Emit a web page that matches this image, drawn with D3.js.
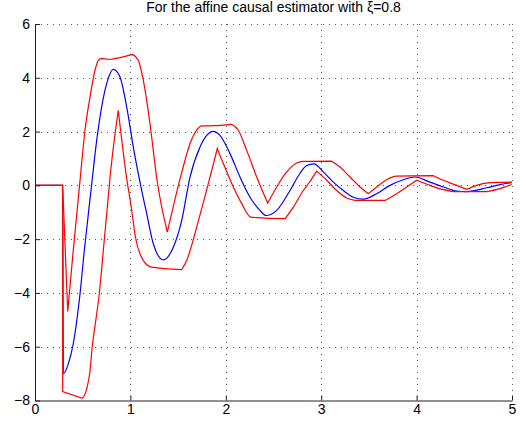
<!DOCTYPE html>
<html>
<head>
<meta charset="utf-8">
<script src="https://cdn.jsdelivr.net/npm/d3@7"></script>
<style>
  html, body { margin: 0; padding: 0; background: #fff; }
  svg { display: block; }
  text { font-family: "Liberation Sans", Arial, Helvetica, sans-serif; }
</style>
</head>
<body>
<svg id="chart" width="526" height="429"></svg>
<script>
const titleText = "For the affine causal estimator with ξ=0.8";
const xTicks = [0, 1, 2, 3, 4, 5];
const yTicks = [-8, -6, -4, -2, 0, 2, 4, 6];

// Estimate (blue)
const estT = [0, 0.29, 0.297, 0.349, 0.401, 0.472, 0.517, 0.587, 0.647, 0.699, 0.752, 0.821, 0.891, 0.961, 1.030, 1.118, 1.171, 1.240, 1.345, 1.450, 1.538, 1.625, 1.730, 1.800, 1.869, 1.939, 2.044, 2.149, 2.254, 2.358, 2.421, 2.534, 2.673, 2.778, 2.848, 2.925, 3.022, 3.127, 3.232, 3.336, 3.441, 3.582, 3.721, 3.861, 3.983, 4.140, 4.280, 4.420, 4.525, 4.735, 4.874, 4.997];
const estV = [0, 0, -7.01, -6.64, -5.89, -4.03, -2.42, -0.19, 1.68, 2.92, 3.79, 4.31, 4.03, 2.92, 1.43, -0.19, -1.05, -2.17, -2.77, -2.30, -1.30, 0.31, 1.43, 1.86, 2.01, 1.86, 1.18, 0.31, -0.44, -0.93, -1.12, -0.93, -0.19, 0.45, 0.74, 0.80, 0.50, 0.12, -0.19, -0.44, -0.51, -0.31, 0.0, 0.21, 0.31, 0.12, -0.06, -0.21, -0.23, -0.09, 0.03, 0.10];

// Upper bound (red)
const upT = [0, 0.29, 0.343, 0.401, 0.472, 0.524, 0.577, 0.629, 0.664, 0.699, 0.786, 0.891, 1.024, 1.083, 1.135, 1.205, 1.279, 1.387, 1.530, 1.625, 1.695, 1.747, 1.869, 2.062, 2.131, 2.219, 2.324, 2.439, 2.534, 2.638, 2.743, 2.812, 3.110, 3.197, 3.302, 3.407, 3.494, 3.582, 3.686, 3.791, 4.175, 4.280, 4.420, 4.525, 4.630, 4.769, 4.997];
const upV = [0, 0, -4.69, -2.42, 0.19, 2.05, 3.29, 4.28, 4.65, 4.72, 4.68, 4.75, 4.87, 4.65, 3.91, 2.30, 0.19, -1.74, 0.37, 1.55, 2.05, 2.21, 2.22, 2.27, 2.05, 1.30, 0.31, -0.66, -0.06, 0.50, 0.83, 0.89, 0.90, 0.68, 0.31, -0.06, -0.31, -0.06, 0.21, 0.34, 0.36, 0.19, 0.0, -0.15, 0.0, 0.10, 0.12];

// Lower bound (red)
const loT = [0, 0.29, 0.29, 0.496, 0.520, 0.550, 0.575, 0.600, 0.638, 0.674, 0.716, 0.755, 0.794, 0.873, 0.964, 1.006, 1.053, 1.135, 1.223, 1.538, 1.590, 1.714, 1.808, 1.911, 1.974, 2.079, 2.167, 2.261, 2.324, 2.621, 2.708, 2.812, 2.865, 2.953, 3.058, 3.162, 3.267, 3.354, 3.669, 3.791, 3.896, 4.001, 4.140, 4.280, 4.385, 4.735, 4.874, 4.997];
const loV = [0, 0, -7.67, -7.92, -7.80, -7.45, -6.95, -6.00, -5.00, -4.02, -2.42, -0.93, 0.56, 2.79, 0.19, -0.74, -1.92, -2.79, -3.04, -3.13, -2.79, -1.30, -0.06, 1.37, 0.81, -0.06, -0.68, -1.18, -1.20, -1.24, -0.81, -0.19, 0.06, 0.53, 0.19, -0.19, -0.47, -0.56, -0.56, -0.31, -0.06, 0.19, 0.0, -0.16, -0.23, -0.23, -0.12, 0.03];

const svg = d3.select("#chart");
const x = d3.scaleLinear().domain([0, 5]).range([35, 512]);
const y = d3.scaleLinear().domain([-8, 6]).range([400.5, 24]);

// grid
const grid = svg.append("g");
xTicks.filter(d => d > 0).forEach(d => {
  grid.append("line")
    .attr("x1", Math.round(x(d)) + 0.5).attr("x2", Math.round(x(d)) + 0.5)
    .attr("y1", y(6)).attr("y2", y(-8))
    .attr("stroke", "#555").attr("stroke-width", 1).attr("stroke-dasharray", "1,5");
});
yTicks.filter(d => d > -8).forEach(d => {
  grid.append("line")
    .attr("x1", x(0)).attr("x2", x(5))
    .attr("y1", Math.round(y(d)) + 0.5).attr("y2", Math.round(y(d)) + 0.5)
    .attr("stroke", "#555").attr("stroke-width", 1).attr("stroke-dasharray", "1,5");
});

const toPts = (ts, vs) => ts.map((t, i) => [t, vs[i]]);
const lineMono = d3.line().x(d => x(d[0])).y(d => y(d[1])).curve(d3.curveMonotoneX);

// Envelope curves: smooth between turning points, sharp corners at turning points.
function envelopePath(ts, vs) {
  const pts = toPts(ts, vs);
  const n = pts.length;
  const segs = [];
  let cur = [pts[0]];
  for (let i = 1; i < n; i++) {
    cur.push(pts[i]);
    if (i < n - 1) {
      const a = Math.sign(vs[i] - vs[i - 1]);
      const b = Math.sign(vs[i + 1] - vs[i]);
      const vert = ts[i + 1] === ts[i] || ts[i] === ts[i - 1];
      if (a !== b || vert) { segs.push(cur); cur = [pts[i]]; }
    }
  }
  segs.push(cur);
  return segs.map((s, k) => {
    const d = lineMono(s);
    return k === 0 ? d : d.replace(/^M[^CLZ]*/, "");
  }).join("");
}

svg.append("path").attr("d", lineMono(toPts(estT, estV)))
  .attr("fill", "none").attr("stroke", "#0000ff").attr("stroke-width", 1.2);
svg.append("path").attr("d", envelopePath(upT, upV))
  .attr("fill", "none").attr("stroke", "#ff0000").attr("stroke-width", 1.2);
svg.append("path").attr("d", envelopePath(loT, loV))
  .attr("fill", "none").attr("stroke", "#ff0000").attr("stroke-width", 1.2);

// axes
const fmt = d => (d < 0 ? "\u2212" + Math.abs(d) : String(d));
const yAxis = svg.append("g").attr("transform", "translate(35,0)")
  .call(d3.axisLeft(y).tickValues(yTicks).tickSizeInner(-5).tickSizeOuter(0).tickPadding(5).tickFormat(fmt));
const xAxis = svg.append("g").attr("transform", "translate(0,400.5)")
  .call(d3.axisBottom(x).tickValues(xTicks).tickSizeInner(-5).tickSizeOuter(0).tickPadding(4).tickFormat(fmt));
[yAxis, xAxis].forEach(g => {
  g.selectAll(".domain").attr("stroke", "#222");
  g.selectAll(".tick line").attr("stroke", "#222");
  g.selectAll("text").attr("font-size", 14).attr("fill", "#000")
    .attr("font-family", "'Liberation Sans', Arial, sans-serif");
});

svg.append("text").attr("x", 273.5).attr("y", 12)
  .attr("text-anchor", "middle").attr("font-size", 14).attr("fill", "#000")
  .text(titleText);
</script>
</body>
</html>
